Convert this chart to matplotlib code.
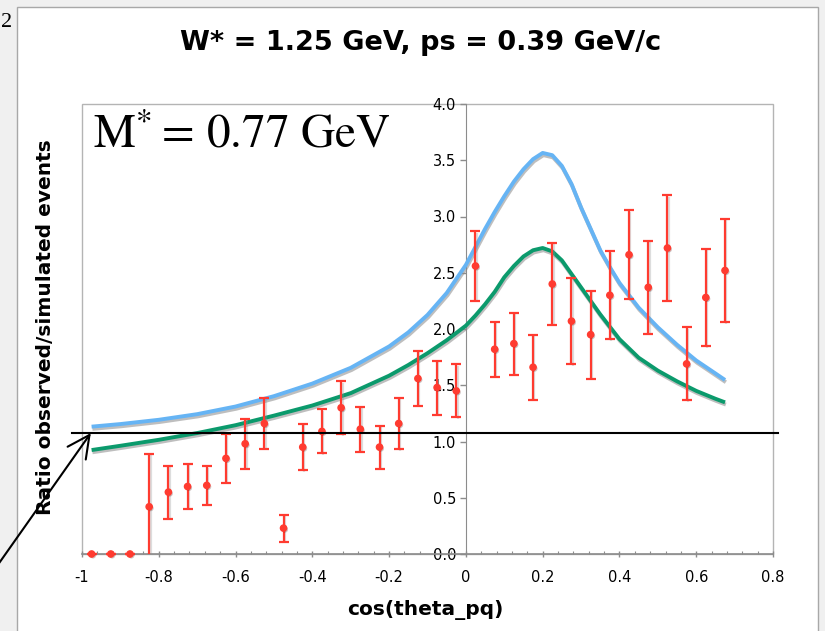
import matplotlib
matplotlib.use("Agg")
import matplotlib.pyplot as plt
import matplotlib.patheffects as pe
from matplotlib.patches import Rectangle
from matplotlib.ticker import FixedLocator, MultipleLocator
import numpy as np

plt.rcParams["axes.unicode_minus"] = False
plt.rcParams["mathtext.fontset"] = "stix"

# measured ratio per cos(theta_pq) bin
cos_bins = [-0.975, -0.925, -0.875, -0.825, -0.775, -0.725, -0.675, -0.625,
            -0.575, -0.525, -0.475, -0.425, -0.375, -0.325, -0.275, -0.225,
            -0.175, -0.125, -0.075, -0.025, 0.025, 0.075, 0.125, 0.175,
            0.225, 0.275, 0.325, 0.375, 0.425, 0.475, 0.525, 0.575, 0.625, 0.675]
ratio = [0.0, 0.0, 0.0, 0.42, 0.55, 0.60, 0.61, 0.85,
         0.98, 1.16, 0.23, 0.95, 1.09, 1.30, 1.11, 0.95,
         1.16, 1.56, 1.48, 1.45, 2.56, 1.82, 1.87, 1.66,
         2.40, 2.07, 1.95, 2.30, 2.66, 2.37, 2.72, 1.69, 2.28, 2.52]
ratio_err = [0.0, 0.0, 0.0, 0.47, 0.235, 0.20, 0.17, 0.215,
             0.22, 0.225, 0.12, 0.205, 0.195, 0.235, 0.20, 0.19,
             0.23, 0.245, 0.24, 0.235, 0.31, 0.245, 0.275, 0.29,
             0.365, 0.385, 0.39, 0.39, 0.395, 0.415, 0.47, 0.325, 0.435, 0.46]

# model curves
model_cos = [-0.975, -0.9, -0.8, -0.7, -0.6, -0.5, -0.4, -0.3, -0.2, -0.15,
             -0.1, -0.05, 0.0, 0.025, 0.05, 0.075, 0.1, 0.125, 0.15, 0.175,
             0.2, 0.225, 0.25, 0.275, 0.3, 0.325, 0.35, 0.375, 0.4, 0.45,
             0.5, 0.55, 0.6, 0.65, 0.675]
model_blue = [1.132, 1.155, 1.193, 1.243, 1.311, 1.403, 1.515, 1.655, 1.845, 1.97,
              2.125, 2.32, 2.57, 2.73, 2.89, 3.04, 3.18, 3.31, 3.42, 3.51,
              3.565, 3.545, 3.45, 3.29, 3.08, 2.89, 2.70, 2.55, 2.41, 2.19,
              2.015, 1.86, 1.72, 1.605, 1.547]
model_green = [0.924, 0.962, 1.015, 1.075, 1.145, 1.23, 1.32, 1.43, 1.585, 1.68,
               1.785, 1.90, 2.03, 2.12, 2.22, 2.33, 2.46, 2.56, 2.645, 2.70,
               2.72, 2.69, 2.61, 2.49, 2.37, 2.25, 2.13, 2.02, 1.91, 1.745,
               1.63, 1.535, 1.45, 1.38, 1.348]

x_ticks = [-1.0, -0.8, -0.6, -0.4, -0.2, 0.0, 0.2, 0.4, 0.6, 0.8]
x_tick_labels = ["-1", "-0.8", "-0.6", "-0.4", "-0.2", "0", "0.2", "0.4", "0.6", "0.8"]
y_ticks = [0.0, 0.5, 1.0, 1.5, 2.0, 2.5, 3.0, 3.5, 4.0]
y_tick_labels = ["0.0", "0.5", "1.0", "1.5", "2.0", "2.5", "3.0", "3.5", "4.0"]

ref_level = 1.075
ref_span = (-1.025, 0.8125)

RED = "#ff3b30"
BLUE = "#66b4f4"
GREEN = "#0b9a6c"
AXIS_GRAY = "#8c8c8c"

W, H = 825, 631
fig = plt.figure(figsize=(W / 100, H / 100), dpi=100, facecolor="#f0f0f0")
fig.add_artist(Rectangle((17 / W, -0.01), (818 - 17) / W, (631 - 7) / H + 0.01,
                         transform=fig.transFigure, facecolor="white",
                         edgecolor="#a8a8a8", lw=1, zorder=0))

ax = fig.add_axes([82 / W, (631 - 554) / H, 691 / W, 450 / H])
ax.set_xlim(-1, 0.8)
ax.set_ylim(0, 4)

# outer frame of the plot area
ax.add_patch(Rectangle((0, 0), 1, 1, transform=ax.transAxes, fill=False,
                       edgecolor="#b4b4b4", lw=1, clip_on=False, zorder=0.5))
ax.spines["top"].set_visible(False)
ax.spines["right"].set_visible(False)
ax.spines["left"].set_position(("data", 0))
ax.spines["left"].set_color(AXIS_GRAY)
ax.spines["bottom"].set_color(AXIS_GRAY)
ax.spines["bottom"].set_linewidth(1.2)

ax.xaxis.set_major_locator(FixedLocator(x_ticks))
ax.set_xticklabels(x_tick_labels)
ax.xaxis.set_minor_locator(MultipleLocator(0.04))
ax.set_yticks(y_ticks)
ax.set_yticklabels(y_tick_labels)
ax.tick_params(axis="x", which="major", direction="inout", length=5, width=1,
               color=AXIS_GRAY, pad=9, labelsize=10.5)
ax.tick_params(axis="x", which="minor", direction="in", length=2.5, width=0.8,
               color=AXIS_GRAY)
ax.tick_params(axis="y", which="major", direction="out", length=4, width=1,
               color=AXIS_GRAY, pad=3, labelsize=10.5)

shadow = [pe.SimpleLineShadow(offset=(0.6, -1.6), shadow_color="#8a8a8a", alpha=0.55),
          pe.Normal()]
ax.plot(model_cos, model_blue, color=BLUE, lw=2.8, solid_joinstyle="round",
        solid_capstyle="butt", path_effects=shadow, zorder=3)
ax.plot(model_cos, model_green, color=GREEN, lw=2.8, solid_joinstyle="round",
        solid_capstyle="butt", path_effects=shadow, zorder=3)

xb = np.array(cos_bins)
yb = np.array(ratio)
eb = np.array(ratio_err)
filled = yb > 0
bar_style = dict(fmt="o", ms=4.5, color=RED, ecolor=RED, elinewidth=1.6,
                 capsize=3.8, capthick=1.6, zorder=4)
bar_shadow = [pe.SimpleLineShadow(offset=(1.0, -1.0), shadow_color="#909090", alpha=0.3),
              pe.Normal()]
full = ax.errorbar(xb[filled], yb[filled], yerr=eb[filled], **bar_style)
empty = ax.errorbar(xb[~filled], yb[~filled], yerr=eb[~filled], **bar_style)
for cont in (full, empty):
    cont.lines[0].set_path_effects([pe.SimplePatchShadow(offset=(1, -1), alpha=0.25),
                                    pe.Normal()])
    for coll in cont.lines[2]:
        coll.set_path_effects(bar_shadow)
for art in empty.lines[0:1] + tuple(empty.lines[1]):
    art.set_clip_on(False)

# reference line and arrow
ax.plot(ref_span, [ref_level, ref_level], color="black", lw=1.5,
        clip_on=False, zorder=5)
ax.annotate("", xy=(-0.977, ref_level), xycoords="data",
            xytext=(-10, 55), textcoords="figure pixels",
            arrowprops=dict(arrowstyle="->,head_length=0.8,head_width=0.4",
                            lw=1.5, color="black", mutation_scale=20,
                            shrinkA=0, shrinkB=0),
            annotation_clip=False, zorder=6)

fig.text(420.5 / W, (631 - 50) / H, "W* = 1.25 GeV, ps = 0.39 GeV/c",
         ha="center", va="baseline", fontsize=19.5, fontweight="bold")
fig.text(93 / W, (631 - 148) / H, r"$\mathrm{M}^{*} = \,0.77\ \mathrm{GeV}$",
         ha="left", va="baseline", fontsize=34)
fig.text(46 / W, (631 - 327) / H, "Ratio observed/simulated events",
         rotation=90, ha="center", va="center", fontsize=14.5, fontweight="bold")
fig.text(425 / W, (631 - 615) / H, "cos(theta_pq)",
         ha="center", va="baseline", fontsize=14.5, fontweight="bold")
# page number of the slide, sitting in the left margin
fig.text(0.5 / W, (631 - 27) / H, "2", ha="left", va="baseline",
         fontsize=16, family="Liberation Serif")

fig.savefig("out.png", dpi=100, facecolor=fig.get_facecolor())
